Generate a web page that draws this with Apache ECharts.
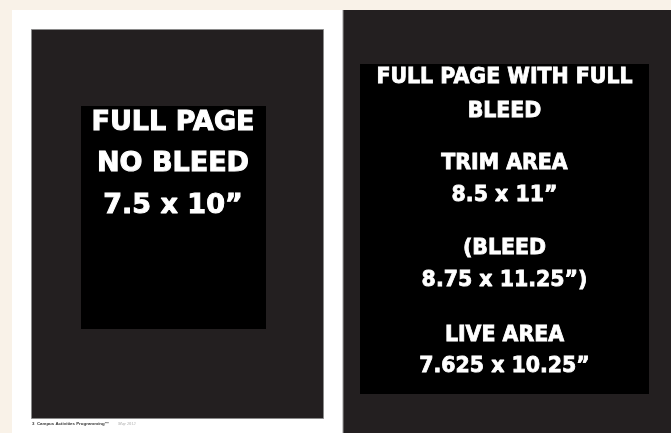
<!DOCTYPE html>
<html>
<head>
<meta charset="utf-8">
<script src="https://cdn.jsdelivr.net/npm/echarts@6/dist/echarts.min.js"></script>
<style>
html,body{margin:0;padding:0;background:#f9f2e8;}
#c{width:671px;height:433px;}
</style>
</head>
<body>
<div id="c"></div>
<script>
// Text content
var leftLines = ['FULL PAGE', 'NO BLEED', '7.5 x 10\u201D'];
var rightLines = ['FULL PAGE WITH FULL', 'BLEED', 'TRIM AREA', '8.5 x 11\u201D', '(BLEED', '8.75 x 11.25\u201D)', 'LIVE AREA', '7.625 x 10.25\u201D'];
var footerBold = '3  Campus Activities Programming\u2122';
var footerItalic = 'May 2012';

// Layout (styling only)
var leftY = [123, 164, 206];
var rightY = [78, 112, 164, 196, 249, 281, 336, 367];
var FONT = '"DejaVu Sans", sans-serif';

var chart = echarts.init(document.getElementById('c'));
var elements = [
  {type:'rect', shape:{x:0,y:0,width:671,height:433}, style:{fill:'#f9f2e8'}},
  {type:'rect', shape:{x:12,y:10,width:331,height:423}, style:{fill:'#ffffff'}},
  {type:'rect', shape:{x:31.5,y:29.5,width:292,height:389}, style:{fill:'#231f20', stroke:'#8a8a8a', lineWidth:1}},
  {type:'rect', shape:{x:81,y:106,width:185,height:223}, style:{fill:'#000000'}},
  {type:'rect', shape:{x:343,y:10,width:328,height:423}, style:{fill:'#231f20'}},
  {type:'rect', shape:{x:342.5,y:10,width:1,height:423}, style:{fill:'#9a9a9a'}},
  {type:'rect', shape:{x:360,y:64,width:289,height:330}, style:{fill:'#000000'}}
];
leftLines.forEach(function(t,i){
  elements.push({type:'text', style:{text:t, x:173, y:leftY[i], fill:'#ffffff', stroke:'#ffffff', lineWidth:1,
    font:'bold 27px ' + FONT, textAlign:'center', textVerticalAlign:'middle'}});
});
rightLines.forEach(function(t,i){
  elements.push({type:'text', style:{text:t, x:504.5, y:rightY[i], fill:'#ffffff', stroke:'#ffffff', lineWidth:0.8,
    font:'bold 20.5px ' + FONT, textAlign:'center', textVerticalAlign:'middle'}});
});
elements.push({type:'text', style:{text:footerBold, x:32, y:424, fill:'#333333',
  font:'bold 4.4px "Liberation Sans", sans-serif', textAlign:'left', textVerticalAlign:'middle'}});
elements.push({type:'text', style:{text:footerItalic, x:118, y:424, fill:'#aaaaaa',
  font:'italic 4.4px "Liberation Serif", serif', textAlign:'left', textVerticalAlign:'middle'}});

chart.setOption({
  animation:false,
  backgroundColor:'#f9f2e8',
  graphic:{elements:elements}
});
</script>
</body>
</html>
